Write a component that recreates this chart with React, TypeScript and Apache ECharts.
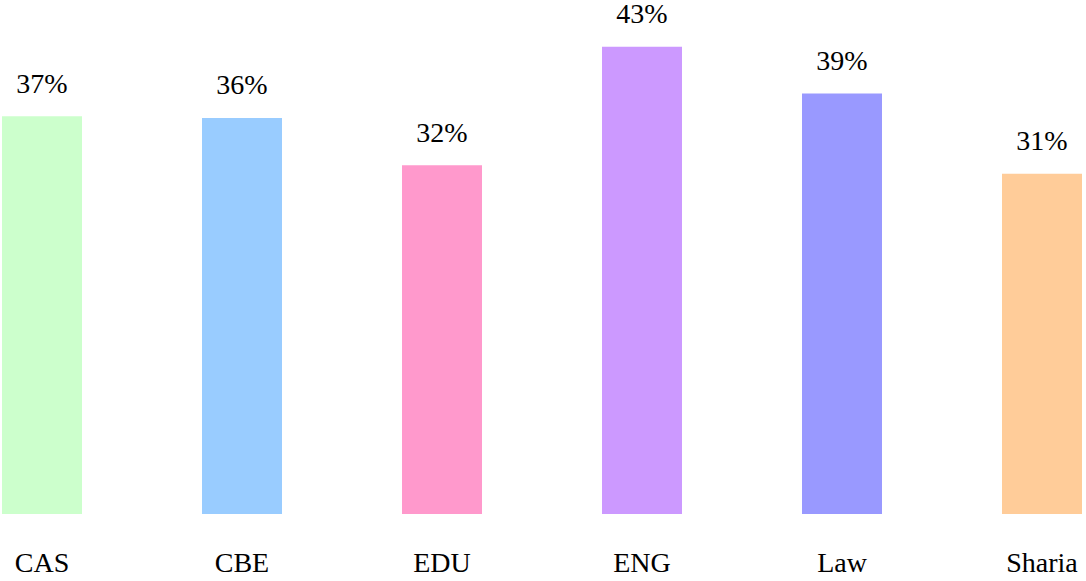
import React, { useEffect, useRef } from "react";
import * as echarts from "echarts";

const categories = ["CAS", "CBE", "EDU", "ENG", "Law", "Sharia"];
const values = [36.6, 36.45, 32.1, 43.0, 38.7, 31.3];
const labels = ["37%", "36%", "32%", "43%", "39%", "31%"];
const colors = ["#CCFFCC", "#99CCFF", "#FF99CC", "#CC99FF", "#9999FF", "#FFCC99"];

const FONT = "Liberation Serif";

export default function App() {
  const ref = useRef<HTMLDivElement>(null);
  useEffect(() => {
    if (!ref.current) return;
    const chart = echarts.init(ref.current, undefined, { renderer: "svg" });
    chart.setOption({
      animation: false,
      textStyle: { fontFamily: FONT },
      grid: { left: 42, right: 44, top: 25, bottom: 67 },
      xAxis: {
        type: "category",
        data: categories,
        boundaryGap: false,
        axisLine: { show: false },
        axisTick: { show: false },
        axisLabel: {
          color: "#000",
          fontFamily: FONT,
          fontSize: 28,
          margin: 34,
          interval: 0,
        },
      },
      yAxis: {
        type: "value",
        min: 0,
        max: 45,
        show: false,
        splitLine: { show: false },
      },
      series: [
        {
          type: "bar",
          barWidth: 80,
          data: values.map((v, i) => ({ value: v, itemStyle: { color: colors[i] } })),
          label: {
            show: true,
            position: "top",
            distance: 21,
            color: "#000",
            fontFamily: FONT,
            fontSize: 28,
            lineHeight: 24,
            formatter: (p: any) => labels[p.dataIndex],
          },
        },
      ],
    });
    return () => chart.dispose();
  }, []);
  return (
    <div
      ref={ref}
      style={{ position: "fixed", left: 0, top: 0, width: 1086, height: 581, background: "#fff" }}
    />
  );
}
